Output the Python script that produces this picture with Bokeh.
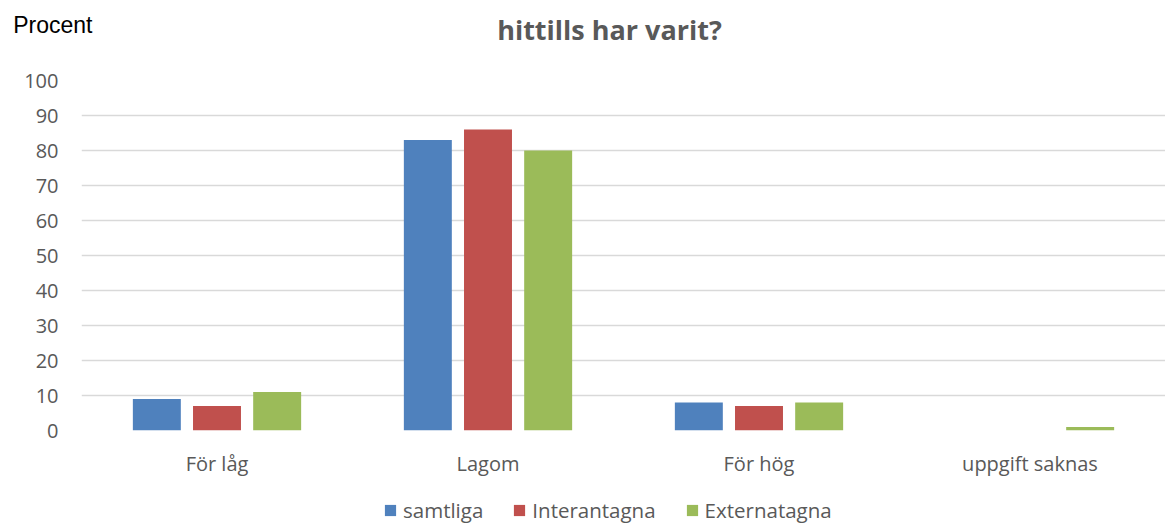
from bokeh.plotting import figure
from bokeh.layouts import column
from bokeh.models import (ColumnDataSource, FactorRange, Legend, LegendItem, Label,
                          SingleIntervalTicker, FixedTicker, Range1d)
from bokeh.transform import dodge
from bokeh.embed import file_html
from bokeh.resources import INLINE

categories = ["För låg", "Lagom", "För hög", "uppgift saknas"]
samtliga = [9, 83, 8, 0]
interantagna = [7, 86, 7, 0]
externatagna = [11, 80, 8, 1]
series_names = ["samtliga", "Interantagna", "Externatagna"]
colors = ["#4F81BD", "#C0504D", "#9BBB59"]
title_text = "hittills har varit?"
y_label = "Procent"

W = 1165
LEFT = 81
HEAD_H = 58
HEAD_FRAME = 48

# --- header figure (title + y label) ---
head = figure(width=W, height=HEAD_H, x_range=(LEFT, W), y_range=(0, HEAD_FRAME),
              output_backend="svg", toolbar_location=None,
              x_axis_location=None, y_axis_location="left",
              min_border=0, min_border_left=LEFT, min_border_bottom=HEAD_H - HEAD_FRAME)
head.outline_line_color = None
head.grid.visible = False
hy = head.yaxis[0]
hy.ticker = FixedTicker(ticks=[])
hy.axis_line_color = None
hy.major_tick_out = 0
hy.major_tick_in = 0
hy.minor_tick_out = 0
hy.minor_tick_in = 0
hy.major_label_text_font_size = "0px"
hy.axis_label = y_label
hy.axis_label_orientation = "horizontal"
hy.axis_label_text_font = "Liberation Sans"
hy.axis_label_text_font_size = "23px"
hy.axis_label_text_font_style = "normal"
hy.axis_label_text_color = "#000000"
hy.axis_label_standoff = -11
head.add_layout(Label(x=609, y=HEAD_FRAME - 29, text=title_text, text_font="Open Sans",
                      text_font_style="bold", text_font_size="27px", text_color="#595959",
                      text_align="center", text_baseline="middle"))

# --- main chart ---
source = ColumnDataSource(dict(cat=categories, s=samtliga, i=interantagna, e=externatagna))
xr = FactorRange(*categories)
xr.range_padding = 0

p = figure(x_range=xr, y_range=(0, 100),
           width=W, height=480 - HEAD_H, output_backend="svg", toolbar_location=None,
           min_border_left=LEFT, min_border_right=0, min_border_top=80 - HEAD_H,
           min_border_bottom=50)
p.outline_line_color = None

offsets = [-0.222, 0.0, 0.222]
keys = ["s", "i", "e"]
for key, off, col in zip(keys, offsets, colors):
    p.vbar(x=dodge("cat", off, range=xr), top=key, width=0.177, source=source,
           fill_color=col, line_color=None)

p.yaxis.ticker = SingleIntervalTicker(interval=10)
p.ygrid.grid_line_color = "#D9D9D9"
p.ygrid.grid_line_width = 1.3
p.xgrid.grid_line_color = None

for ax in [p.xaxis[0], p.yaxis[0]]:
    ax.axis_line_color = None
    ax.major_tick_line_color = None
    ax.minor_tick_line_color = None
    ax.major_label_text_color = "#595959"
    ax.major_label_text_font = "Open Sans"
    ax.major_label_text_font_size = "20px"
p.yaxis.major_label_standoff = 17
p.xaxis.major_label_standoff = 13

# --- legend strip (bars here fall outside the visible y range) ---
foot = figure(width=W, height=44, x_range=xr, y_range=Range1d(1000, 1001),
              output_backend="svg", toolbar_location=None,
              x_axis_location=None, y_axis_location=None,
              min_border=0, min_border_left=LEFT)
foot.outline_line_color = None
foot.grid.visible = False
leg_r = [foot.vbar(x=dodge("cat", off, range=xr), top=key, width=0.177, source=source,
                   fill_color=c, line_color=None)
         for key, off, c in zip(keys, offsets, colors)]
legend = Legend(items=[LegendItem(label=n, renderers=[r]) for n, r in zip(series_names, leg_r)],
                orientation="horizontal", location=(302, 0),
                label_text_font="Open Sans", label_text_font_size="20.5px", label_text_color="#595959",
                glyph_width=14, glyph_height=14, label_standoff=6, spacing=29,
                padding=0, margin=0, border_line_color=None, background_fill_alpha=0)
foot.add_layout(legend, "center")

layout = column(head, p, foot, spacing=0)
open("out.html", "w").write(file_html(layout, INLINE))
